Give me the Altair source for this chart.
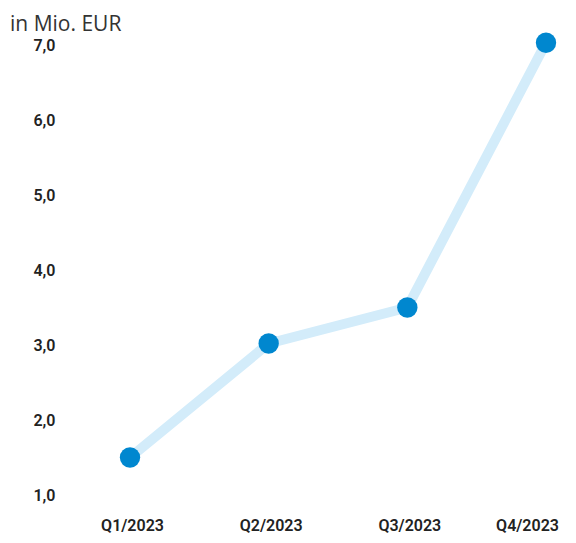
import altair as alt
import pandas as pd

quarters = ["Q1/2023", "Q2/2023", "Q3/2023", "Q4/2023"]
values = [1.5, 3.02, 3.5, 7.03]

df = pd.DataFrame({"quarter": quarters, "value": values})

x = alt.X(
    "quarter:O",
    sort=quarters,
    scale=alt.Scale(type="point", padding=0),
    axis=alt.Axis(
        title=None,
        labelAngle=0,
        ticks=False,
        domain=False,
        grid=False,
        labelFont="Roboto",
        labelFontSize=16,
        labelFontWeight=600,
        labelColor="#222222",
        labelBaseline="alphabetic",
        labelPadding=35,
        labelOffset={"condition": {"test": "datum.value == 'Q4/2023'", "value": -19}, "value": 2},
    ),
)
y = alt.Y(
    "value:Q",
    scale=alt.Scale(domain=[1, 7], nice=False, zero=False),
    axis=alt.Axis(
        title=None,
        values=[1, 2, 3, 4, 5, 6, 7],
        labelExpr="replace(format(datum.value, '.1f'), '.', ',')",
        ticks=False,
        domain=False,
        grid=False,
        labelFont="Roboto",
        labelFontSize=16,
        labelFontWeight=600,
        labelColor="#222222",
        labelPadding=75,
    ),
)

line = alt.Chart(df).mark_line(color="#d3ecfa", strokeWidth=10).encode(x=x, y=y)
points = alt.Chart(df).mark_circle(color="#0087cf", size=415, opacity=1).encode(x=x, y=y)

chart = (
    (line + points)
    .properties(
        width=416,
        height=450,
        autosize=alt.AutoSizeParams(type="none"),
        padding={"left": 122, "top": 37, "right": 14, "bottom": 40},
        title=alt.TitleParams(
            "in Mio. EUR",
            anchor="start",
            frame="group",
            dx=-120,
            offset=-12,
            font="Open Sans",
            fontSize=21,
            fontWeight="normal",
            color="#333333",
        ),
    )
    .configure_view(stroke=None)
)

chart.save("out.html", embed_options={"renderer": "svg", "actions": False})
